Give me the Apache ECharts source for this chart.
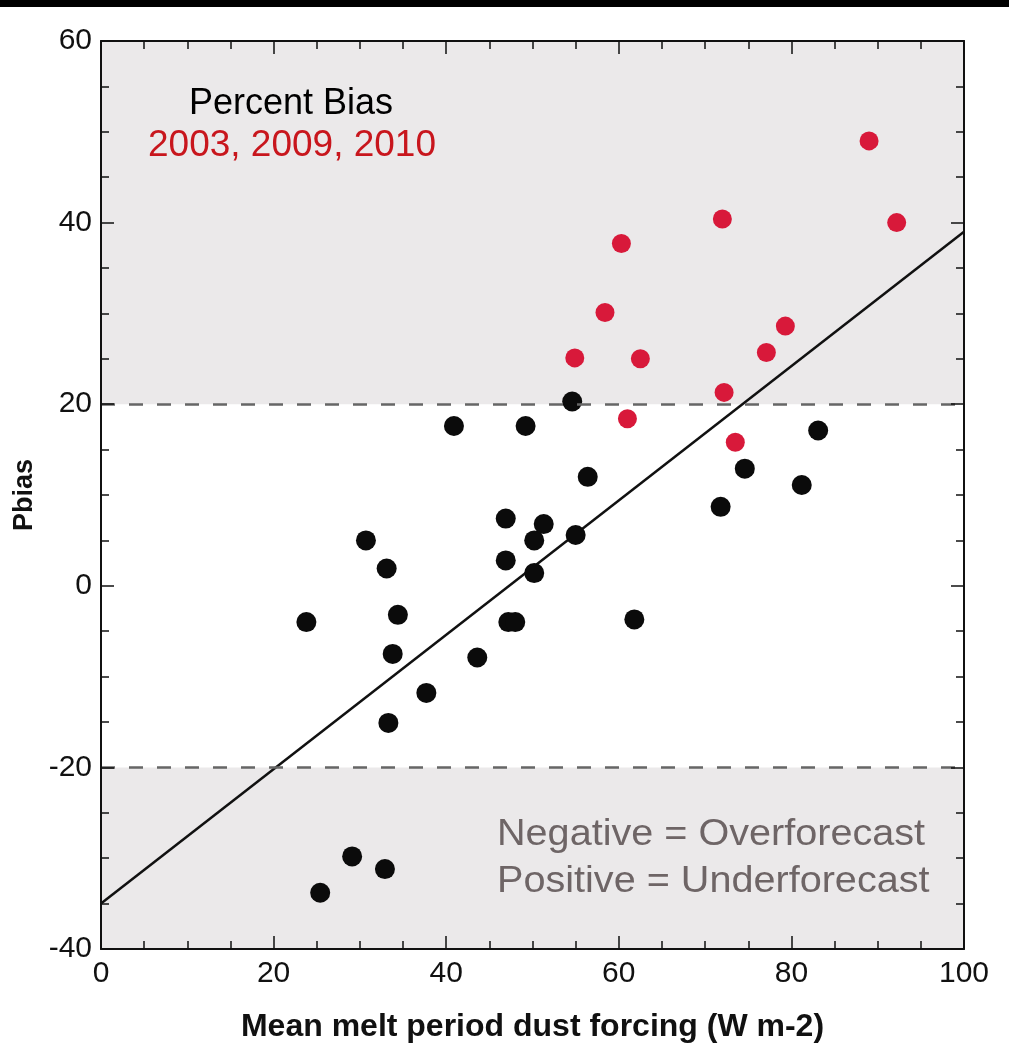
<!DOCTYPE html>
<html>
<head>
<meta charset="utf-8">
<script src="https://cdn.jsdelivr.net/npm/echarts@6/dist/echarts.min.js"></script>
<style>
  html, body { margin: 0; padding: 0; background: #ffffff; }
  #chart { width: 1009px; height: 1057px; }
</style>
</head>
<body>
<div id="chart"></div>
<script>
// Mean melt period dust forcing (W m-2) vs. percent bias, all years
const otherYears = [
  [23.8, -4.0], [30.7, 5.0], [33.1, 1.9], [34.4, -3.2], [33.8, -7.5],
  [33.3, -15.1], [37.7, -11.8], [40.9, 17.6], [43.6, -7.9], [46.9, 7.4],
  [46.9, 2.8], [47.2, -4.0], [48.0, -4.0], [49.2, 17.6], [50.2, 5.0],
  [51.3, 6.8], [50.2, 1.4], [55.0, 5.6], [54.6, 20.3], [56.4, 12.0],
  [61.8, -3.7], [71.8, 8.7], [74.6, 12.9], [81.2, 11.1], [83.1, 17.1],
  [29.1, -29.8], [32.9, -31.2], [25.4, -33.8]
];
// Years 2003, 2009, 2010
const dustyYears = [
  [89.0, 49.0], [92.2, 40.0], [72.0, 40.4], [60.3, 37.7], [58.4, 30.1],
  [54.9, 25.1], [62.5, 25.0], [79.3, 28.6], [77.1, 25.7], [72.2, 21.3],
  [61.0, 18.4], [73.5, 15.8]
];
// Least-squares fit endpoints
const fitLine = [[0, -35.0], [100, 39.0]];
// Bias limits (+/-20 %) and the shaded bands outside them
const biasLimits = [20, -20];
const outerBands = [[20, 60], [-40, -20]];
const xRange = [0, 100];
const yRange = [-40, 60];
const tickStep = 20;

const axisColor = '#111111';
const labelFont = "'Liberation Sans', Arial, Helvetica, sans-serif";

function frameAxis(position, showLabels, extra) {
  return Object.assign({
    type: 'value',
    position: position,
    interval: tickStep,
    z: 10,
    axisLine: { show: true, onZero: false, lineStyle: { color: axisColor, width: 2 } },
    axisTick: { show: true, inside: true, length: 13, lineStyle: { color: axisColor, width: 1.5 } },
    minorTick: { show: true, splitNumber: 4, length: 8, lineStyle: { color: axisColor, width: 1.5 } },
    splitLine: { show: false },
    axisLabel: {
      show: showLabels, color: '#111', fontSize: 30, fontFamily: labelFont
    }
  }, extra);
}

const chart = echarts.init(document.getElementById('chart'), null, { renderer: 'canvas' });

chart.setOption({
  backgroundColor: '#ffffff',
  animation: false,
  grid: { left: 101, top: 41, width: 863, height: 908, containLabel: false },
  xAxis: [
    frameAxis('bottom', true, {
      min: xRange[0], max: xRange[1],
      name: 'Mean melt period dust forcing (W m-2)',
      nameLocation: 'middle', nameGap: 62,
      nameTextStyle: { fontSize: 32, fontWeight: 'bold', color: '#111', fontFamily: labelFont },
      axisLabel: { show: true, margin: 10, color: '#111', fontSize: 30, fontFamily: labelFont }
    }),
    frameAxis('top', false, { min: xRange[0], max: xRange[1] })
  ],
  yAxis: [
    frameAxis('left', true, {
      min: yRange[0], max: yRange[1],
      name: 'Pbias',
      nameLocation: 'middle', nameGap: 52, nameRotate: 90,
      nameTextStyle: { fontSize: 27, fontWeight: 'bold', color: '#111', fontFamily: labelFont },
      axisLabel: { show: true, margin: 9, color: '#111', fontSize: 30, fontFamily: labelFont }
    }),
    frameAxis('right', false, { min: yRange[0], max: yRange[1] })
  ],
  graphic: [
    { type: 'rect', left: 0, top: 0, shape: { width: 1009, height: 7 }, style: { fill: '#000' }, z: 100 },
    {
      type: 'text', x: 291, y: 104, z: 50,
      style: { text: 'Percent Bias', fill: '#000', font: "36px 'Liberation Sans', Arial, sans-serif",
               align: 'center', verticalAlign: 'middle' }
    },
    {
      type: 'text', x: 292, y: 146, z: 50,
      style: { text: '2003, 2009, 2010', fill: '#c8161d', font: "37px 'Liberation Sans', Arial, sans-serif",
               align: 'center', verticalAlign: 'middle' }
    },
    {
      type: 'text', x: 497, y: 835, scaleX: 1.1, z: 50,
      style: { text: 'Negative = Overforecast', fill: '#6e6566', font: "36px 'Liberation Sans', Arial, sans-serif",
               align: 'left', verticalAlign: 'middle' }
    },
    {
      type: 'text', x: 497, y: 882, scaleX: 1.1, z: 50,
      style: { text: 'Positive = Underforecast', fill: '#6e6566', font: "36px 'Liberation Sans', Arial, sans-serif",
               align: 'left', verticalAlign: 'middle' }
    }
  ],
  series: [
    {
      name: 'bands',
      type: 'line',
      data: [],
      silent: true,
      z: 1,
      markArea: {
        silent: true,
        itemStyle: { color: '#ebe9ea' },
        data: outerBands.map(b => [{ yAxis: b[0] }, { yAxis: b[1] }])
      },
      markLine: {
        silent: true,
        symbol: ['none', 'none'],
        label: { show: false },
        lineStyle: { color: '#666666', width: 2.5, type: [14, 14] },
        data: biasLimits.map(v => ({ yAxis: v }))
      }
    },
    {
      name: 'fit',
      type: 'line',
      data: fitLine,
      showSymbol: false,
      silent: true,
      z: 3,
      lineStyle: { color: '#111', width: 2.5 }
    },
    {
      name: 'other years',
      type: 'scatter',
      data: otherYears,
      symbolSize: 20,
      z: 4,
      itemStyle: { color: '#0b0b0b', opacity: 1 }
    },
    {
      name: '2003, 2009, 2010',
      type: 'scatter',
      data: dustyYears,
      symbolSize: 19,
      z: 4,
      itemStyle: { color: '#d8193a', opacity: 1 }
    }
  ]
});
</script>
</body>
</html>
